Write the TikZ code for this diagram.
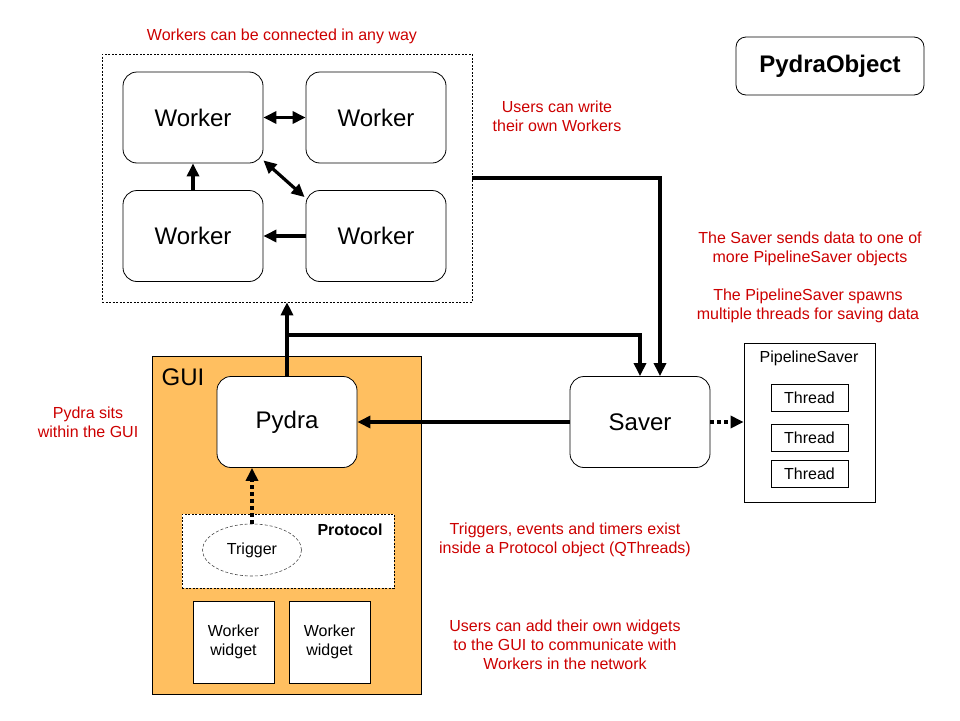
\documentclass[tikz,border=0pt]{standalone}
\usepackage{fontspec}
\setmainfont{Liberation Sans}
\usetikzlibrary{arrows.meta,shapes.geometric}
\definecolor{guiorange}{RGB}{255,191,96}
\definecolor{notered}{RGB}{204,0,0}

\begin{document}
\begin{tikzpicture}[x=1pt,y=-1pt,>={Triangle[length=13pt,width=12pt]},
  worker/.style={rectangle,rounded corners=14pt,draw,fill=white,line width=0.8pt,
    font=\fontsize{24}{28}\selectfont,minimum width=140pt,minimum height=91pt},
  smallbox/.style={rectangle,draw,fill=white,line width=0.8pt,align=center,
    font=\fontsize{16}{19}\selectfont},
  group/.style={rectangle,draw,line width=0.6pt,dash pattern=on 2pt off 1.5pt},
  flow/.style={line width=3.2pt},
  dots/.style={line width=3.2pt,dash pattern=on 4pt off 3pt},
  note/.style={text=notered,align=center,font=\fontsize{16}{19}\selectfont}]

  \useasboundingbox (0,0) rectangle (960,720);

  % worker network
  \node[group,minimum width=370pt,minimum height=248pt] (workers) at (287,178) {};
  \node[worker] (WA) at (193,117.5) {Worker};
  \node[worker] (WB) at (376,117.5) {Worker};
  \node[worker] (WC) at (193,236) {Worker};
  \node[worker] (WD) at (376,236) {Worker};

  % GUI
  \node[rectangle,draw,fill=guiorange,line width=0.8pt,minimum width=269pt,
    minimum height=338pt] (gui) at (287,525) {};
  \node[font=\fontsize{24}{28}\selectfont] (guilabel) at (183,377) {GUI};
  \node[worker] (pydra) at (287,422) {Pydra};
  \node[group,fill=white,minimum width=212pt,minimum height=74pt] (protocol) at (288,551) {};
  \node[font=\fontsize{16}{19}\selectfont\bfseries] (protolabel) at (350,530) {Protocol};
  \node[ellipse,draw=black!70,dash pattern=on 3pt off 2pt,line width=0.6pt,
    minimum width=99pt,minimum height=52pt,inner sep=0pt,
    font=\fontsize{16}{19}\selectfont] (trigger) at (252,550) {Trigger};
  \node[smallbox,minimum width=81pt,minimum height=82pt] (widgetA) at (233.5,642) {Worker\\widget};
  \node[smallbox,minimum width=81pt,minimum height=82pt] (widgetB) at (329.5,642) {Worker\\widget};

  % saving
  \node[worker] (saver) at (640,422) {Saver};
  \node[rectangle,draw,line width=0.8pt,minimum width=131pt,minimum height=159pt] (pipe) at (809.5,422.5) {};
  \node[font=\fontsize{16}{19}\selectfont] (pipelabel) at (809,358) {PipelineSaver};
  \node[smallbox,minimum width=77pt,minimum height=27pt] (threadA) at (809.5,397.5) {Thread};
  \node[smallbox,minimum width=77pt,minimum height=27pt] (threadB) at (809.5,438) {Thread};
  \node[smallbox,minimum width=77pt,minimum height=27pt] (threadC) at (809.5,473.5) {Thread};

  \node[rectangle,rounded corners=10pt,draw,line width=0.8pt,minimum width=188pt,
    minimum height=58pt,font=\fontsize{24}{28}\selectfont\bfseries] (pobj) at (830,66) {PydraObject};

  % notes
  \node[note] (noteA) at (282,36) {Workers can be connected in any way};
  \node[note] (noteB) at (557,116) {Users can write\\their own Workers};
  \node[note] (noteC) at (810,249) {The Saver sends data to one of\\more PipelineSaver objects};
  \node[note] (noteD) at (808,306) {The PipelineSaver spawns\\multiple threads for saving data};
  \node[note] (noteE) at (88,422) {Pydra sits\\within the GUI};
  \node[note] (noteF) at (565,540) {Triggers, events and timers exist\\inside a Protocol object (QThreads)};
  \node[note] (noteG) at (565,645) {Users can add their own widgets\\to the GUI to communicate with\\Workers in the network};

  \path[flow]
  (WA) edge [<->] (WB)
  (WD) edge [->] (WC)
  (WC) edge [->] (WA)
  ([yshift=3pt]WA.south east) edge [<->] ([xshift=-1pt,yshift=-7pt]WD.north west)
  (saver) edge [->] (pydra)
  (pydra.north) edge [->] (workers.south)
  ;

  \coordinate (split) at (287,335);
  \draw[flow,->] (split) -| (saver.north);
  \draw[flow,->] (workers.east) -| ([xshift=20pt]saver.north);

  \draw[dots,->] (saver.east) -- (saver.east -| pipe.west);
  \draw[dots,->] (trigger.north) -- (trigger.north |- pydra.south);
\end{tikzpicture}
\end{document}
